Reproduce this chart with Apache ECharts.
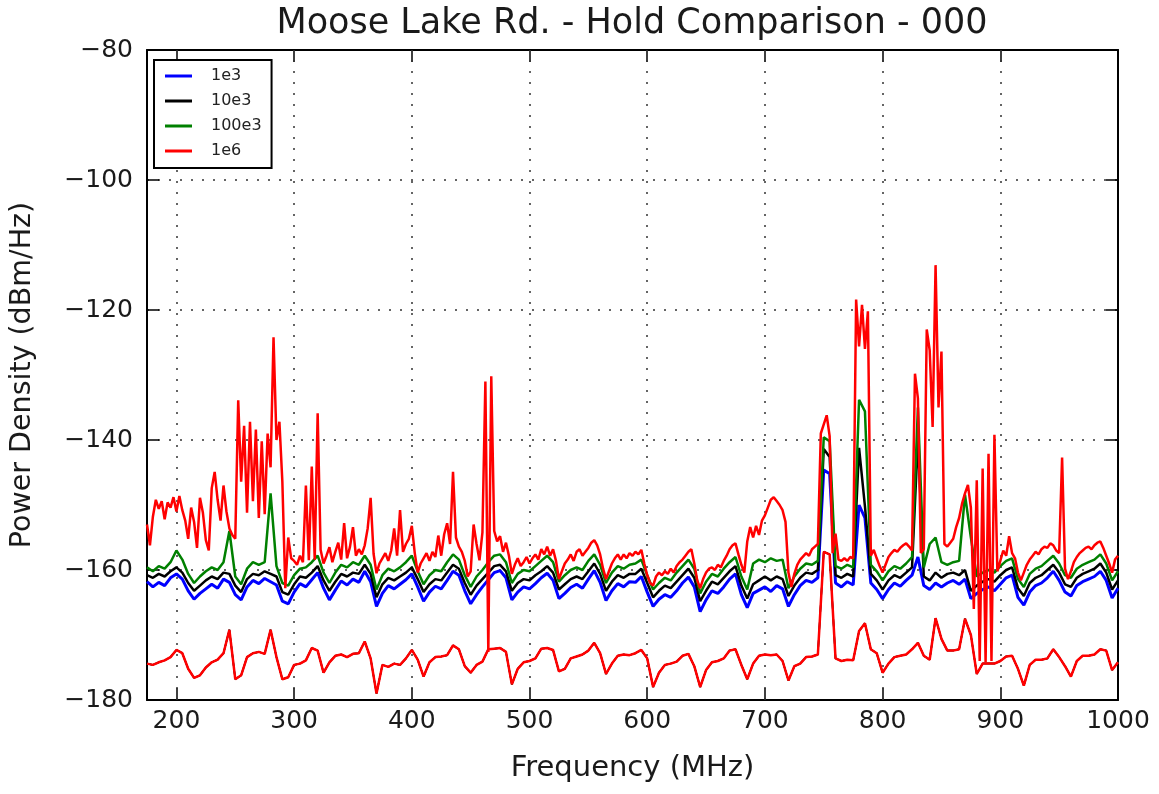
<!DOCTYPE html>
<html>
<head>
<meta charset="utf-8">
<script src="https://cdn.jsdelivr.net/npm/echarts@6/dist/echarts.min.js"></script>
<style>
html,body{margin:0;padding:0;background:#fff;}
#chart{width:1159px;height:794px;}
</style>
</head>
<body>
<div id="chart"></div>
<script>
// ---------- data ----------
const seriesNames = ['1e3', '10e3', '100e3', '1e6'];
const xTicks = [200, 300, 400, 500, 600, 700, 800, 900, 1000];
const yTicks = [-180, -160, -140, -120, -100, -80];

// sample positions (MHz): 175..1000 every 5 MHz for the hold traces, every 2.5 MHz for the 1e6 max hold
const FREQ_START = 175, FREQ_END = 1000;

// 1e3 max hold (5 MHz grid)
const max1e3 = [
  -161.8, -162.6, -161.9, -162.4, -161.2, -160.6, -161.4, -163.2, -164.5, -163.6,
  -162.9, -162.2, -162.8, -161.4, -161.9, -163.8, -164.6, -162.6, -161.6, -162.1,
  -161.3, -161.8, -162.3, -164.8, -165.2, -163.4, -162.1, -162.6, -161.5, -160.4,
  -162.8, -164.6, -163.1, -161.7, -162.3, -161.4, -161.9, -160.2, -161.8, -165.6,
  -163.6, -162.4, -162.9, -162.2, -161.5, -160.6, -162.6, -164.8, -163.4, -162.5,
  -162.9, -161.6, -160.2, -160.8, -163.2, -165.2, -163.8, -162.6, -161.5, -160.4,
  -160.1, -161.2, -164.6, -163.4, -162.6, -162.9, -162.1, -161.2, -160.5, -161.6,
  -164.4, -163.6, -162.7, -162.2, -162.8, -161.4, -160.1, -161.9, -164.7, -163.2,
  -162.1, -162.6, -161.8, -161.9, -161.0, -163.4, -165.6, -164.5, -163.8, -164.2,
  -163.2, -162.0, -161.1, -162.6, -166.4, -164.6, -163.2, -163.6, -162.6, -161.4,
  -160.6, -163.8, -165.8, -163.6, -163.1, -162.6, -163.3, -162.4, -162.9, -165.6,
  -163.8, -162.4, -161.6, -161.9, -161.2, -144.6, -145.2, -162.0, -162.6, -161.8,
  -162.3, -150.0, -152.0, -162.0, -163.0, -164.4, -163.0, -162.0, -162.5, -161.6,
  -160.8, -158.0, -162.4, -163.0, -162.0, -162.6, -162.0, -161.6, -162.2, -161.4,
  -164.4, -163.6, -163.0, -162.6, -163.2, -162.2, -161.2, -160.8, -164.2, -165.4,
  -163.4, -162.4, -162.0, -161.2, -160.2, -161.6, -163.4, -164.0, -162.4, -161.8,
  -161.4, -161.0, -160.2, -161.6, -164.3, -162.8
];

// 10e3 max hold (5 MHz grid)
const max10e3 = [
  -160.8, -161.2, -160.6, -161.0, -160.2, -159.6, -160.4, -162.0, -163.2, -162.4,
  -161.6, -161.0, -161.4, -160.4, -160.6, -162.4, -163.4, -161.4, -160.6, -160.8,
  -160.2, -160.6, -161.0, -163.4, -163.8, -162.2, -161.0, -161.2, -160.4, -159.4,
  -161.6, -163.2, -161.8, -160.6, -161.0, -160.4, -160.6, -159.2, -160.6, -164.2,
  -162.2, -161.2, -161.6, -161.0, -160.4, -159.6, -161.4, -163.4, -162.2, -161.4,
  -161.6, -160.4, -159.2, -159.8, -162.0, -163.8, -162.4, -161.4, -160.4, -159.4,
  -159.2, -160.2, -163.2, -162.0, -161.4, -161.6, -160.8, -160.2, -159.4, -160.4,
  -163.0, -162.2, -161.4, -161.0, -161.4, -160.2, -159.0, -160.6, -163.2, -161.8,
  -160.8, -161.2, -160.6, -160.6, -159.8, -162.0, -164.2, -163.2, -162.4, -162.8,
  -161.8, -160.8, -159.8, -161.2, -164.8, -163.2, -161.8, -162.2, -161.2, -160.2,
  -159.4, -162.4, -164.4, -162.2, -161.6, -161.0, -161.6, -161.0, -161.4, -164.0,
  -162.4, -161.2, -160.4, -160.6, -160.0, -141.4, -142.6, -160.8, -161.2, -160.6,
  -161.0, -141.2, -150.2, -160.6, -161.6, -163.0, -161.6, -160.8, -161.2, -160.4,
  -159.6, -139.8, -161.0, -161.6, -160.4, -161.2, -160.6, -160.4, -160.8, -160.0,
  -163.2, -162.4, -161.8, -161.4, -161.8, -160.8, -160.0, -159.6, -162.8, -164.0,
  -162.0, -161.2, -160.8, -160.0, -159.2, -160.4, -162.2, -162.6, -161.2, -160.6,
  -160.2, -159.8, -159.0, -160.4, -163.0, -161.6
];

// 100e3 max hold (5 MHz grid)
const max100e3 = [
  -159.6, -160.2, -159.4, -159.8, -158.8, -157.0, -158.4, -160.6, -162.0, -161.0,
  -160.2, -159.6, -160.0, -158.8, -154.0, -161.0, -162.2, -159.8, -158.8, -159.2,
  -158.8, -148.2, -159.4, -162.0, -162.4, -160.8, -159.8, -159.6, -158.8, -157.8,
  -160.4, -162.0, -160.4, -159.2, -159.6, -158.8, -159.2, -157.8, -159.2, -163.0,
  -160.8, -159.8, -160.2, -159.6, -158.8, -157.8, -160.2, -162.2, -160.8, -160.0,
  -160.2, -158.8, -157.6, -158.4, -160.8, -162.6, -161.0, -160.0, -158.8, -157.8,
  -157.6, -158.8, -162.0, -160.6, -160.0, -160.2, -159.4, -158.6, -157.8, -158.8,
  -161.8, -160.8, -160.0, -159.6, -160.0, -158.6, -157.6, -159.2, -162.0, -160.4,
  -159.4, -159.8, -159.2, -159.0, -158.4, -160.8, -163.0, -162.0, -161.2, -161.6,
  -160.4, -159.4, -158.4, -159.8, -163.6, -161.8, -160.6, -161.0, -159.8, -158.8,
  -158.0, -161.0, -163.0, -159.0, -158.4, -158.8, -158.2, -158.6, -158.4, -162.8,
  -161.0, -159.8, -159.0, -159.2, -158.6, -139.6, -140.2, -159.4, -159.8, -159.2,
  -159.6, -133.8, -135.6, -159.2, -160.2, -161.6, -160.2, -159.4, -159.8, -159.0,
  -158.0, -135.0, -159.6, -156.0, -155.0, -158.8, -159.2, -158.8, -158.6, -148.4,
  -155.0, -161.0, -160.4, -160.0, -160.4, -159.4, -158.6, -158.2, -161.4, -162.6,
  -160.6, -159.8, -159.4, -158.6, -157.8, -159.0, -160.8, -161.2, -159.8, -159.2,
  -158.8, -158.4, -157.6, -159.0, -161.6, -160.2
];

// 1e6 max hold (2.5 MHz grid)
const max1e6 = [
  -153.0, -156.2, -151.8, -149.2, -150.6, -149.4, -152.2, -149.6, -150.4, -148.8,
  -151.0, -148.6, -150.8, -152.4, -155.2, -150.4, -152.6, -156.6, -148.9, -151.2,
  -155.4, -157.0, -147.4, -144.9, -149.2, -152.4, -147.0, -151.0, -153.6, -154.6,
  -155.2, -133.9, -146.4, -137.8, -151.2, -137.2, -149.4, -138.4, -152.0, -140.2,
  -151.4, -139.0, -144.2, -124.2, -140.0, -137.2, -146.4, -162.8, -155.0, -158.2,
  -158.6, -159.2, -157.8, -158.8, -147.0, -158.5, -144.1, -158.4, -135.9, -156.9,
  -159.0, -157.8, -156.5, -158.8, -157.2, -155.8, -158.4, -152.8, -158.2, -156.4,
  -153.4, -157.8, -156.8, -157.6, -156.2, -153.6, -148.9, -157.5, -160.5, -159.0,
  -158.2, -157.4, -158.6, -157.0, -153.6, -157.8, -150.8, -157.2, -156.0, -155.2,
  -153.2, -157.4, -160.4, -159.0, -158.2, -157.4, -158.6, -157.2, -158.0, -154.7,
  -157.8, -154.5, -152.8, -156.0, -144.9, -155.0, -156.4, -157.2, -158.6, -161.0,
  -160.2, -153.0, -156.0, -158.5, -154.2, -131.0, -172.6, -130.2, -154.0, -155.6,
  -154.8, -157.2, -155.8, -157.8, -160.6, -159.2, -158.2, -159.4, -158.8, -158.0,
  -159.0, -158.2, -157.6, -158.4, -156.8, -157.6, -156.4, -157.8, -156.8, -158.6,
  -161.4, -160.2, -159.0, -158.4, -157.6, -158.6, -157.2, -156.8, -157.8, -157.2,
  -156.6, -155.8, -155.4, -156.2, -157.6, -159.8, -161.4, -160.2, -159.0, -158.2,
  -157.6, -158.4, -157.6, -158.2, -157.4, -157.8, -157.2, -157.6, -156.9, -159.0,
  -160.8, -162.0, -162.4, -161.0, -160.4, -160.8, -160.2, -160.6, -159.8, -160.4,
  -159.4, -158.8, -158.4, -157.8, -157.2, -156.8, -159.0, -161.6, -162.8, -161.4,
  -160.4, -159.8, -159.6, -160.0, -159.2, -159.6, -158.6, -157.8, -156.8, -156.2,
  -155.9, -157.6, -159.2, -160.4, -155.6, -153.4, -155.0, -153.2, -154.6, -152.4,
  -151.6, -150.4, -149.2, -148.8, -149.4, -150.0, -150.8, -152.6, -160.4, -162.6,
  -160.6, -159.2, -158.4, -157.9, -157.4, -157.8, -156.8, -156.4, -156.0, -139.0,
  -137.6, -136.2, -139.4, -157.4, -154.4, -158.4, -158.6, -158.2, -158.6, -158.0,
  -158.2, -118.4, -125.6, -119.2, -126.0, -120.2, -157.8, -156.9, -158.2, -159.4,
  -160.4, -159.2, -158.0, -157.4, -156.9, -157.2, -156.6, -156.2, -155.9, -156.4,
  -157.0, -129.8, -133.6, -157.4, -156.8, -123.0, -126.2, -138.0, -113.1, -135.0,
  -126.4, -156.0, -156.4, -155.8, -155.2, -153.4, -152.0, -149.8, -148.2, -146.9,
  -150.4, -166.0, -146.2, -174.0, -144.4, -174.2, -142.1, -174.0, -139.2, -160.2,
  -158.6, -157.0, -157.8, -154.8, -157.4, -158.2, -160.4, -161.6, -160.4, -159.2,
  -158.4, -157.8, -157.2, -157.6, -156.8, -156.4, -156.6, -155.9, -156.2, -157.0,
  -157.4, -142.7, -159.8, -161.4, -160.2, -158.8, -158.0, -157.4, -157.0, -156.6,
  -156.4, -156.8, -156.2, -155.8, -155.6, -156.6, -157.8, -159.0, -160.4, -158.4,
  -157.8
];

// min hold (5 MHz grid) - the four holds coincide here
const minHold = [
  -174.4, -174.6, -174.2, -173.9, -173.4, -172.3, -172.8, -175.2, -176.6, -176.2,
  -175.0, -174.2, -173.8, -172.8, -169.2, -176.8, -176.2, -173.4, -172.8, -172.6,
  -172.9, -169.2, -173.4, -176.8, -176.5, -174.6, -174.4, -173.9, -172.0, -172.4,
  -175.8, -174.2, -173.2, -173.0, -173.4, -172.9, -172.8, -171.0, -173.6, -179.0,
  -174.6, -174.9, -174.4, -174.6, -173.6, -172.3, -173.8, -176.4, -174.2, -173.4,
  -173.3, -173.1, -171.6, -172.2, -174.8, -175.8, -174.6, -174.1, -172.2, -172.1,
  -172.0, -172.6, -177.6, -175.2, -174.2, -174.0, -173.6, -172.1, -172.0, -172.3,
  -175.6, -175.2, -173.6, -173.3, -173.0, -172.4, -171.2, -172.8, -176.0, -174.4,
  -173.2, -173.0, -173.1, -172.8, -172.3, -173.6, -178.0, -175.8, -174.6, -174.4,
  -174.1, -173.2, -172.9, -174.8, -178.0, -175.4, -174.2, -174.0, -173.6, -172.4,
  -172.2, -174.6, -176.8, -174.4, -173.2, -173.0, -173.1, -173.0, -174.0, -177.0,
  -174.8, -174.4, -173.4, -173.3, -173.0, -157.2, -157.6, -173.6, -174.0, -173.8,
  -173.9, -169.4, -168.2, -172.2, -172.8, -175.8, -174.4, -173.4, -173.2, -173.0,
  -172.2, -171.2, -173.2, -173.8, -167.4, -170.6, -172.4, -172.4, -172.2, -167.5,
  -170.0, -176.0, -174.4, -174.4, -174.4, -174.0, -173.3, -173.2, -175.2, -177.8,
  -174.6, -173.8, -173.8, -173.6, -172.2, -173.4, -174.8, -176.4, -174.0, -173.2,
  -173.2, -173.0, -172.2, -172.4, -175.4, -174.2
];

// ---------- build ----------
function sampleGrid(step) {
  const a = [];
  for (let i = 0; FREQ_START + i * step <= FREQ_END + 1e-9; i++) a.push(+(FREQ_START + i * step).toFixed(2));
  return a;
}
const freq5 = sampleGrid(5);
const freq25 = sampleGrid(2.5);
function pairs(fr, vals) {
  const n = Math.min(fr.length, vals.length);
  if (fr.length !== vals.length) console.warn('length mismatch', fr.length, vals.length);
  const out = [];
  for (let i = 0; i < n; i++) out.push([fr[i], vals[i]]);
  return out;
}

const colors = { '1e3': '#0000ff', '10e3': '#000000', '100e3': '#008000', '1e6': '#ff0000' };
const FONT = 'DejaVu Sans';
const minus = v => String(v).replace('-', '\u2212');

function lineSeries(name, data, width) {
  return {
    name, type: 'line', data, showSymbol: false, symbol: 'none', z: 3,
    lineStyle: { color: colors[name], width: width },
    itemStyle: { color: colors[name] },
    emphasis: { disabled: true }, animation: false, silent: true
  };
}

const series = [
  {
    name: 'grid', type: 'line', data: [], z: 1, silent: true, animation: false,
    markLine: {
      z: 1, silent: true, symbol: ['none', 'none'], animation: false,
      label: { show: false },
      lineStyle: { color: '#333', width: 1.5, type: [2, 9] },
      data: xTicks.filter(v => v < 1000).map(v => ({ xAxis: v }))
    }
  },
  lineSeries('1e3', pairs(freq5, max1e3), 3),
  lineSeries('1e3', pairs(freq5, minHold), 1.5),
  lineSeries('10e3', pairs(freq5, max10e3), 2.5),
  lineSeries('10e3', pairs(freq5, minHold), 1.5),
  lineSeries('100e3', pairs(freq5, max100e3), 2.5),
  lineSeries('100e3', pairs(freq5, minHold), 1.5),
  lineSeries('1e6', pairs(freq25, max1e6), 2.5),
  lineSeries('1e6', pairs(freq5, minHold), 2.5)
];

const axisLineStyle = { show: true, onZero: false, lineStyle: { color: '#000', width: 2 } };
const tickStyle = { show: true, inside: true, length: 12, lineStyle: { color: '#000', width: 1.5 } };

// legend entries: plain coloured strokes
const legendData = seriesNames.map(n => ({
  name: n, icon: 'rect',
  itemStyle: { color: colors[n], borderWidth: 0 }
}));

const option = {
  backgroundColor: '#ffffff',
  animation: false,
  title: {
    text: 'Moose Lake Rd. - Hold Comparison - 000',
    left: 627, top: 1, textAlign: 'center',
    textStyle: { fontFamily: FONT, fontSize: 35, fontWeight: 'normal', color: '#1a1a1a' }
  },
  legend: {
    data: legendData, z: 10,
    orient: 'vertical', left: 154, top: 60,
    padding: [7, 10, 8, 11],
    itemGap: 7, itemWidth: 27, itemHeight: 3,
    backgroundColor: '#fff', borderColor: '#000', borderWidth: 2, borderRadius: 0,
    textStyle: { fontFamily: FONT, fontSize: 16, color: '#222', lineHeight: 18, padding: [0, 0, 0, 14] },
    selectedMode: false
  },
  grid: { left: 147, right: 41, top: 50, bottom: 94, containLabel: false, show: false },
  xAxis: [
    {
      type: 'value', min: FREQ_START, max: FREQ_END, position: 'bottom',
      name: 'Frequency (MHz)', nameLocation: 'middle', nameGap: 54,
      nameTextStyle: { fontFamily: FONT, fontSize: 29, color: '#1a1a1a' },
      axisLine: axisLineStyle,
      axisTick: Object.assign({ customValues: xTicks }, tickStyle),
      axisLabel: { customValues: xTicks, margin: 9, fontFamily: FONT, fontSize: 25, color: '#1a1a1a', formatter: v => String(v) },
      splitLine: { show: false }
    },
    {
      type: 'value', min: FREQ_START, max: FREQ_END, position: 'top',
      axisLine: axisLineStyle,
      axisTick: Object.assign({ customValues: xTicks }, tickStyle),
      axisLabel: { show: false },
      splitLine: { show: false }
    }
  ],
  yAxis: [
    {
      type: 'value', min: -180, max: -80, interval: 20, position: 'left',
      name: 'Power Density (dBm/Hz)', nameLocation: 'middle', nameGap: 110,
      nameTextStyle: { fontFamily: FONT, fontSize: 28.5, color: '#1a1a1a' },
      axisLine: axisLineStyle,
      axisTick: tickStyle,
      axisLabel: { margin: 14, fontFamily: FONT, fontSize: 25, color: '#1a1a1a', formatter: v => minus(v) },
      splitLine: { show: true, lineStyle: { color: '#333', width: 1.5, type: [2, 9] } }
    },
    {
      type: 'value', min: -180, max: -80, interval: 20, position: 'right',
      axisLine: axisLineStyle,
      axisTick: tickStyle,
      axisLabel: { show: false },
      splitLine: { show: false }
    }
  ],
  series
};

const chart = echarts.init(document.getElementById('chart'), null, { renderer: 'canvas' });
chart.setOption(option);
</script>
</body>
</html>
